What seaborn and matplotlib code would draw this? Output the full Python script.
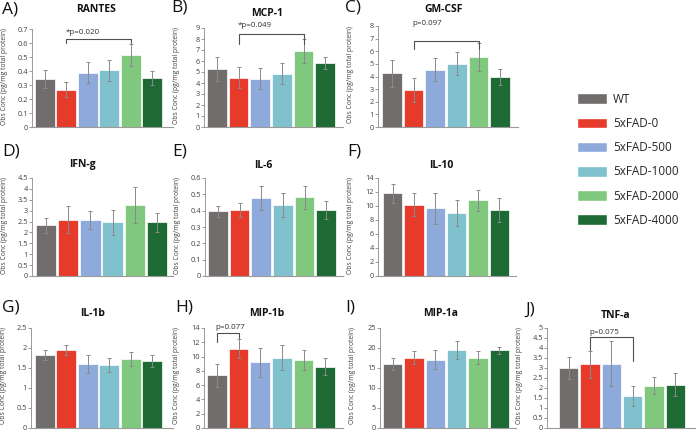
import numpy as np
import pandas as pd
import seaborn as sns
import matplotlib
matplotlib.use("Agg")
import matplotlib.pyplot as plt
from matplotlib.patches import Patch
from matplotlib.ticker import FuncFormatter, MultipleLocator

# ---------------- data ----------------
groups = ["WT", "5xFAD-0", "5xFAD-500", "5xFAD-1000", "5xFAD-2000", "5xFAD-4000"]
colors = ["#716d6d", "#e63b2b", "#8eaadb", "#7fc2ce", "#80c87d", "#1d6a35"]

rantes_mean = [0.346, 0.267, 0.389, 0.406, 0.513, 0.351]
rantes_err = [0.064, 0.053, 0.072, 0.076, 0.079, 0.048]
mcp1_mean = [5.27, 4.48, 4.39, 4.85, 6.90, 5.79]
mcp1_err = [1.06, 0.95, 0.94, 0.97, 1.12, 0.55]
gmcsf_mean = [4.25, 2.95, 4.55, 5.00, 5.55, 3.95]
gmcsf_err = [1.05, 0.95, 0.90, 0.92, 1.13, 0.63]
ifng_mean = [2.33, 2.59, 2.56, 2.47, 3.25, 2.47]
ifng_err = [0.35, 0.63, 0.41, 0.58, 0.82, 0.44]
il6_mean = [0.395, 0.405, 0.478, 0.437, 0.482, 0.402]
il6_err = [0.035, 0.045, 0.075, 0.074, 0.070, 0.056]
il10_mean = [11.8, 10.2, 9.7, 9.0, 10.8, 9.4]
il10_err = [1.4, 1.6, 2.2, 1.8, 1.55, 1.7]
il1b_mean = [1.82, 1.95, 1.60, 1.58, 1.72, 1.675]
il1b_err = [0.12, 0.12, 0.23, 0.17, 0.17, 0.15]
mip1b_mean = [7.38, 11.12, 9.20, 9.86, 9.53, 8.60]
mip1b_err = [1.57, 1.30, 2.00, 1.70, 1.40, 1.17]
mip1a_mean = [16.0, 17.6, 17.1, 19.5, 17.6, 19.4]
mip1a_err = [1.45, 1.6, 2.3, 2.25, 1.6, 0.8]
tnfa_mean = [3.00, 3.18, 3.22, 1.60, 2.12, 2.17]
tnfa_err = [0.57, 0.69, 1.12, 0.48, 0.43, 0.58]

titles = ["RANTES", "MCP-1", "GM-CSF", "IFN-g", "IL-6", "IL-10",
          "IL-1b", "MIP-1b", "MIP-1a", "TNF-a"]
letters = ["A)", "B)", "C)", "D)", "E)", "F)", "G)", "H)", "I)", "J)"]
y_max = [0.7, 9, 8, 4.5, 0.6, 14, 2.5, 14, 25, 5]
y_step = [0.1, 1, 1, 0.5, 0.1, 2, 0.5, 2, 5, 0.5]

# significance annotations: (panel, x_left, x_right, y_line, y_left_end, y_right_end, y_text, label)
sig = [
    (0, 1, 4, 0.63, 0.60, 0.60, 0.676, "*p=0.020"),
    (1, 1, 4, 8.45, 7.55, 7.55, 9.2, "*p=0.049"),
    (2, 1, 4, 6.8, 6.2, 6.2, 8.2, "p=0.097"),
    (7, 0, 1, 13.35, 12.0, 12.65, 14.1, "p=0.077"),
    (9, 1, 3, 4.53, 3.9, 3.35, 4.8, "p=0.075"),
]

means = [rantes_mean, mcp1_mean, gmcsf_mean, ifng_mean, il6_mean, il10_mean,
         il1b_mean, mip1b_mean, mip1a_mean, tnfa_mean]
errs = [rantes_err, mcp1_err, gmcsf_err, ifng_err, il6_err, il10_err,
        il1b_err, mip1b_err, mip1a_err, tnfa_err]

# ---------------- layout (pixels) ----------------
W, H = 700, 441
# axis_x, bar_left, bar_right, x_end, top, bottom
geom = [
    (32, 34, 163, 173, 29, 127),
    (204, 206, 336, 343, 28, 127),
    (378, 381, 511, 518, 26, 127),
    (32, 35, 168, 173, 178, 276),
    (205, 207, 337, 343, 178, 276),
    (378, 382, 510, 516, 178, 276),
    (31, 34, 163, 173, 328, 428),
    (204, 206, 336, 343, 328, 428),
    (380, 382, 510, 516, 328, 428),
    (547, 558, 686, 695, 328, 428),
]
title_pos = [(96, 9), (267, 14), (444, 10), (82, 165), (263, 166), (441, 166),
             (93, 313), (267, 313), (441, 313), (616, 315)]
letter_pos = [(2, 9), (171, 7), (345, 8), (2, 152), (172, 152), (347, 152),
              (2, 308), (175, 307), (345, 307), (525, 310)]

sns.set_theme(style="white")
plt.rcParams["font.family"] = ["Open Sans", "DejaVu Sans"]

fig = plt.figure(figsize=(W / 100, H / 100), dpi=100)
palette = dict(zip(groups, colors))

for i in range(10):
    ax_x, bl, br, xe, top, bot = geom[i]
    ax = fig.add_axes([ax_x / W, 1 - bot / H, (xe - ax_x) / W, (bot - top) / H])
    df = pd.DataFrame({"group": groups, "value": means[i]})
    sns.barplot(data=df, x="group", y="value", hue="group", order=groups,
                hue_order=groups, palette=palette, legend=False, errorbar=None,
                width=0.92, edgecolor="white", linewidth=0.5, saturation=1,
                ax=ax)
    ax.errorbar(np.arange(len(groups)), means[i], yerr=errs[i], fmt="none",
                ecolor="#8a8a8a", elinewidth=0.7, capsize=1.6, capthick=0.7,
                zorder=5)
    c = (br - bl) / 6.0
    ax.set_xlim(-0.5 - (bl - ax_x) / c, 5.5 + (xe - br) / c)
    ax.set_ylim(0, y_max[i])
    ax.yaxis.set_major_locator(MultipleLocator(y_step[i]))
    ax.yaxis.set_major_formatter(FuncFormatter(lambda v, p: f"{v:g}"))
    ax.set_xticks([])
    ax.set_xlabel("")
    ax.tick_params(axis="y", direction="out", length=2, width=0.6,
                   colors="#8a8a8a", labelcolor="#404040", labelsize=5.3, pad=1)
    ax.tick_params(axis="y", left=True)
    for s in ["top", "right"]:
        ax.spines[s].set_visible(False)
    ax.spines["left"].set_color("#8a8a8a")
    ax.spines["left"].set_linewidth(0.6)
    ax.spines["bottom"].set_color("#9a9a9a")
    ax.spines["bottom"].set_linewidth(0.8)
    ax.set_ylabel("Obs Conc (pg/mg total protein)", fontsize=4.9, color="#404040")
    ax.yaxis.set_label_coords(-24 / (xe - ax_x), 0.52)
    ax.set_facecolor("none")

    tx, ty = title_pos[i]
    fig.text(tx / W, 1 - ty / H, titles[i], ha="center", va="center",
             fontsize=7.5, fontweight="bold", color="#111111")
    lx, ly = letter_pos[i]
    fig.text(lx / W, 1 - ly / H, letters[i], ha="left", va="center",
             fontsize=12.5, color="#111111")

    for (p, x0, x1, yl, yle, yre, yt, lab) in sig:
        if p != i:
            continue
        ax.plot([x0, x0, x1, x1], [yle, yl, yl, yre], color="#505050",
                lw=0.8, clip_on=False, zorder=6)
        ax.text(x0 - 0.05, yt, lab, ha="left", va="center", fontsize=5.8,
                color="#303030", clip_on=False)

handles = [Patch(facecolor=c, edgecolor="white") for c in colors]
fig.legend(handles, groups, loc="upper left",
           bbox_to_anchor=(572 / W, 1 - 88 / H), frameon=False,
           fontsize=8.5, handlelength=2.6, handleheight=1.0,
           labelspacing=0.95, handletextpad=0.5, borderaxespad=0)

fig.savefig("out.png", dpi=100, facecolor="white")
